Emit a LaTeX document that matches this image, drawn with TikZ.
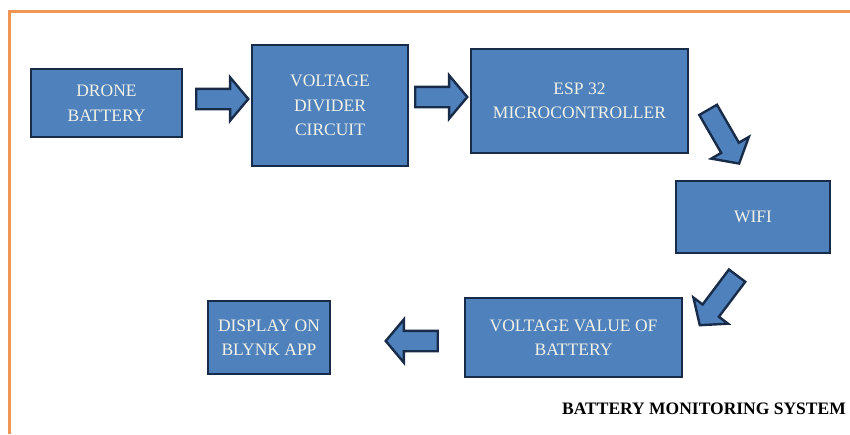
\documentclass[tikz,border=0pt]{standalone}
\usepackage{fontspec}
\setmainfont{Liberation Serif}
\usetikzlibrary{shapes.arrows}
\definecolor{boxfill}{RGB}{79,129,189}
\definecolor{boxline}{RGB}{24,44,74}
\definecolor{boxtext}{RGB}{242,242,230}
\definecolor{frameorange}{RGB}{240,150,85}
\tikzset{
  blk/.style={draw=boxline, line width=2.8pt, fill=boxfill, text=boxtext,
    align=center, inner sep=0pt, font=\fontsize{17.5}{24.5}\selectfont},
  barrow/.style={single arrow, draw=boxline, line width=2.4pt, fill=boxfill,
    inner sep=0pt, inner ysep=9pt, minimum width=42pt,
    single arrow tip angle=100, single arrow head extend=11.5pt},
}
\begin{document}
\begin{tikzpicture}[x=1pt,y=-1pt]
\useasboundingbox (0,0) rectangle (850,434);
\fill[white] (0,0) rectangle (850,434);
\draw[frameorange, line width=3pt] (850,11.5) -- (9.5,11.5) -- (9.5,434);

\node[blk, minimum width=151pt, minimum height=68pt] (drone) at (106.5,103) {DRONE\\BATTERY};
\node[blk, minimum width=156pt, minimum height=121pt] (divider) at (330,105.5) {VOLTAGE\\DIVIDER\\CIRCUIT};
\node[blk, minimum width=217pt, minimum height=104pt] (esp) at (579.5,101) {ESP 32\\MICROCONTROLLER};
\node[blk, minimum width=154pt, minimum height=72pt] (wifi) at (753,217) {WIFI};
\node[blk, minimum width=217pt, minimum height=79pt] (value) at (573.5,337.5) {VOLTAGE VALUE OF\\BATTERY};
\node[blk, minimum width=122pt, minimum height=73pt] (display) at (269,337.5) {DISPLAY ON\\BLYNK APP};

\node[barrow, minimum height=52pt] (a1) at (218,99) {};
\node[barrow, minimum height=52pt] (a2) at (437,97) {};
\node[barrow, minimum height=62pt, rotate=-60] (a3) at (721.5,133) {};
\node[barrow, minimum height=62pt, rotate=-127] (a4) at (721,297) {};
\node[barrow, minimum height=52pt, rotate=180] (a5) at (416,341) {};

\node[anchor=east, font=\fontsize{17.5}{20}\selectfont\bfseries, text=black, inner sep=0pt] (title) at (846,409) {BATTERY MONITORING SYSTEM};
\end{tikzpicture}
\end{document}
